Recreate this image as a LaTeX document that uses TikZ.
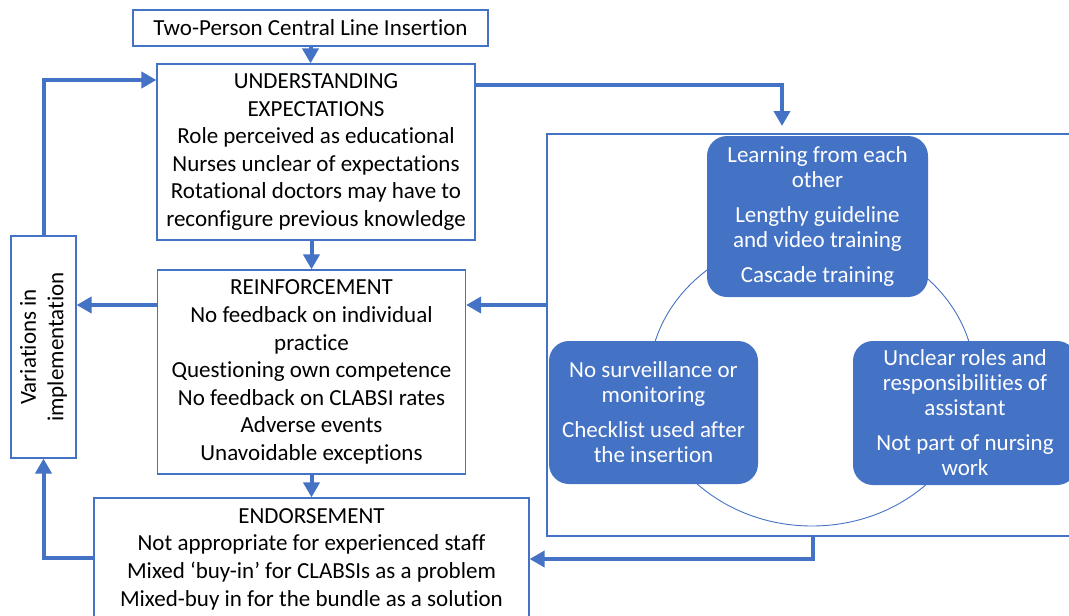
\documentclass[tikz,border=0pt]{standalone}
\usepackage{fontspec}
\setmainfont{Carlito}[Ligatures=NoCommon]
\usetikzlibrary{arrows.meta}
\definecolor{obl}{HTML}{4472C4}
\newcommand{\diagfont}{\fontsize{23}{27.6}\selectfont}
\newcommand{\cyclefont}{\fontsize{23}{25}\selectfont}
\begin{document}
\begin{tikzpicture}[x=1pt,y=-1pt,
  frame/.style={draw=obl,line width=1.2pt,fill=white,inner sep=0pt,align=center,font=\diagfont},
  container/.style={draw=obl,line width=1.2pt,inner sep=0pt},
  cyclebox/.style={fill=obl,rounded corners=20pt,inner sep=0pt,align=center,text=white,font=\cyclefont},
  flow/.style={draw=obl,line width=4pt,line join=miter,-{Triangle[width=16pt,length=15pt]}},
  ring/.style={draw=obl,line width=0.9pt}
]
\useasboundingbox (0,0) rectangle (1069,616);

% left column of stages
\node[frame,minimum width=355pt,minimum height=36pt] (top) at (310.5,28) {Two-Person Central Line Insertion};
\node[frame,minimum width=318pt,minimum height=176pt] (und) at (316,152)
  {UNDERSTANDING\\EXPECTATIONS\\Role perceived as educational\\Nurses unclear of expectations\\Rotational doctors may have to\\reconfigure previous knowledge};
\node[frame,minimum width=308pt,minimum height=204pt] (reinf) at (311.5,372)
  {REINFORCEMENT\\No feedback on individual\\practice\\Questioning own competence\\No feedback on CLABSI rates\\Adverse events\\Unavoidable exceptions};
\node[frame,minimum width=435pt,minimum height=122pt] (endo) at (311.5,559)
  {ENDORSEMENT\\Not appropriate for experienced staff\\Mixed ‘buy-in’ for CLABSIs as a problem\\Mixed-buy in for the bundle as a solution};
\node[frame,minimum width=65pt,minimum height=222pt] (var) at (43.5,347) {};
\node[rotate=90,align=center,font=\diagfont,inner sep=0pt] (varlabel) at (var.center) {Variations in\\implementation};

% cycle of barriers
\node[container,minimum width=538pt,minimum height=402pt] (cont) at (816,335) {};
\draw[ring] (812,381) ellipse [x radius=163, y radius=145];
\node[cyclebox,minimum width=221pt,minimum height=161pt] (learn) at (817.5,216.5)
  {Learning from each\\other\\[10pt]Lengthy guideline\\and video training\\[10pt]Cascade training};
\node[cyclebox,minimum width=209pt,minimum height=143pt] (surv) at (653.5,412.5)
  {No surveillance or\\monitoring\\[10pt]Checklist used after\\the insertion};
\node[cyclebox,minimum width=224pt,minimum height=144pt] (roles) at (965,413)
  {Unclear roles and\\responsibilities of\\assistant\\[10pt]Not part of nursing\\work};

% connector levels
\coordinate (yU) at (0,85);
\coordinate (yR) at (0,305);
\coordinate (yV) at (0,80);
\coordinate (yE) at (0,558);
\coordinate (yB) at (0,559);
\coordinate (tipL) at (782,126);
\coordinate (xB) at (813,0);

% connectors
\draw[flow] (top.south) -- (top.south |- und.north);
\draw[flow] (reinf.north |- und.south) -- (reinf.north);
\draw[flow] (reinf.south) -- (reinf.south |- endo.north);
\draw[flow] (und.east |- yU) -| (tipL);
\draw[flow] (cont.west |- yR) -- (reinf.east |- yR);
\draw[flow] (reinf.west |- yR) -- (var.east |- yR);
\draw[flow] (var.north) |- (und.west |- yV);
\draw[flow] (endo.west |- yE) -| (var.south);
\draw[flow] (cont.south -| xB) |- (endo.east |- yB);
\end{tikzpicture}
\end{document}
